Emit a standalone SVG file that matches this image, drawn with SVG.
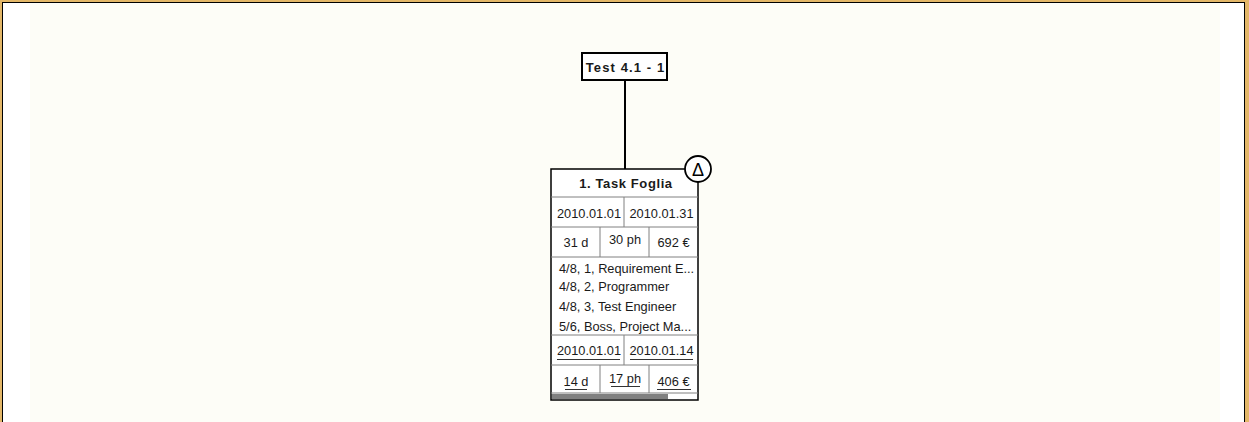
<svg xmlns="http://www.w3.org/2000/svg" width="1249" height="422" viewBox="0 0 1249 422">
<style>
.t{font-family:"Liberation Sans",Arial,sans-serif;font-size:12.8px;fill:#1a1a1a}
.b{font-weight:bold;font-size:13px}
.g{stroke:#808080;stroke-width:1;fill:none}
.u{stroke:#333;stroke-width:1}
</style>
<rect x="0" y="0" width="1249" height="422" fill="#e3b768"/>
<rect x="2.5" y="2.5" width="1242" height="422" fill="#ffffff" stroke="#000" stroke-width="1"/>
<rect x="30" y="3" width="1190" height="419" fill="#fdfdf7"/>
<g id="connectors">
<line x1="625" y1="80" x2="625" y2="169" stroke="#000" stroke-width="2"/>
</g>
<g id="root">
<rect x="582" y="53" width="85" height="27" fill="#fff" stroke="#000" stroke-width="2"/>
<text class="t b" x="625.5" y="72" text-anchor="middle" style="letter-spacing:1.1px">Test 4.1 - 1</text>
</g>
<g id="task">
<rect x="551" y="169" width="147" height="231" fill="#fff" stroke="#000" stroke-width="1.5"/>
<line class="g" x1="551" y1="197" x2="698" y2="197"/>
<line class="g" x1="551" y1="227" x2="698" y2="227"/>
<line class="g" x1="551" y1="257" x2="698" y2="257"/>
<line class="g" x1="551" y1="335" x2="698" y2="335"/>
<line class="g" x1="551" y1="365" x2="698" y2="365"/>
<line class="g" x1="551" y1="393" x2="698" y2="393"/>
<line class="g" x1="624" y1="197" x2="624" y2="227"/>
<line class="g" x1="600" y1="227" x2="600" y2="257"/>
<line class="g" x1="649" y1="227" x2="649" y2="257"/>
<line class="g" x1="624" y1="335" x2="624" y2="365"/>
<line class="g" x1="600" y1="365" x2="600" y2="393"/>
<line class="g" x1="649" y1="365" x2="649" y2="393"/>
<text class="t b" x="626" y="188" text-anchor="middle" style="letter-spacing:0.6px">1. Task Foglia</text>
<text class="t" x="589" y="218" text-anchor="middle">2010.01.01</text>
<text class="t" x="661.5" y="218" text-anchor="middle">2010.01.31</text>
<text class="t" x="576" y="247" text-anchor="middle">31 d</text>
<text class="t" x="625" y="244" text-anchor="middle">30 ph</text>
<text class="t" x="673.5" y="247" text-anchor="middle">692 €</text>
<text class="t" x="559" y="273">4/8, 1, Requirement E...</text>
<text class="t" x="559" y="291">4/8, 2, Programmer</text>
<text class="t" x="559" y="311">4/8, 3, Test Engineer</text>
<text class="t" x="559" y="331">5/6, Boss, Project Ma...</text>
<text class="t" x="589" y="355" text-anchor="middle">2010.01.01</text>
<text class="t" x="661.5" y="355" text-anchor="middle">2010.01.14</text>
<line class="u" x1="557" y1="359.5" x2="620" y2="359.5"/>
<line class="u" x1="630" y1="359.5" x2="693" y2="359.5"/>
<text class="t" x="576" y="386" text-anchor="middle">14 d</text>
<text class="t" x="625" y="383" text-anchor="middle">17 ph</text>
<text class="t" x="673.5" y="386" text-anchor="middle">406 €</text>
<line class="u" x1="565" y1="389.5" x2="587" y2="389.5"/>
<line class="u" x1="611" y1="386.5" x2="640" y2="386.5"/>
<line class="u" x1="657" y1="389.5" x2="691" y2="389.5"/>
<rect x="552" y="394" width="116" height="5" fill="#808080"/>
<circle cx="698" cy="169" r="13" fill="#fff" stroke="#000" stroke-width="1.8"/>
<text class="t" x="698" y="175.5" text-anchor="middle" style="font-size:18px;fill:#000">Δ</text>
</g>
</svg>
